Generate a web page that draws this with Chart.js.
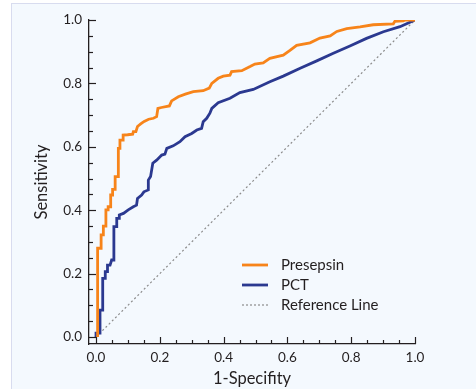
<!DOCTYPE html>
<html>
<head>
<meta charset="utf-8">
<script src="https://cdn.jsdelivr.net/npm/chart.js@4.4.1/dist/chart.umd.min.js"></script>
<style>
  html, body { margin: 0; padding: 0; background: #ffffff; }
  #wrap { position: relative; width: 476px; height: 389px; overflow: hidden; }
  #panel { position: absolute; left: 11px; top: 3px; width: 470px; height: 390px;
           background: #f4f9fe; border-left: 1px solid #d8dcef; border-top: 1px solid #d8dcef; }
  canvas { position: absolute; left: 0; top: 0; }
</style>
</head>
<body>
<div id="wrap">
  <div id="panel"></div>
  <canvas id="c" width="476" height="389"></canvas>
</div>
<script>
// ---- Data ----
const seriesNames = ["Presepsin", "PCT", "Reference Line"];

const presepsinFPR = [0.005,0.005,0.016,0.016,0.023,0.023,0.031,0.031,0.038,0.038,0.046,0.046,0.052,0.052,0.060,0.060,0.070,0.070,0.075,0.075,0.085,0.085,0.099,0.115,0.117,0.125,0.130,0.140,0.151,0.165,0.180,0.190,0.194,0.205,0.230,0.237,0.258,0.280,0.305,0.336,0.355,0.363,0.383,0.399,0.420,0.425,0.457,0.483,0.498,0.524,0.545,0.587,0.608,0.629,0.671,0.702,0.734,0.755,0.786,0.828,0.869,0.932,0.937,0.963,0.969,1.0];
const presepsinTPR = [0.000,0.280,0.280,0.322,0.322,0.350,0.350,0.401,0.401,0.411,0.411,0.448,0.448,0.466,0.466,0.506,0.506,0.595,0.595,0.621,0.621,0.637,0.638,0.640,0.648,0.648,0.664,0.672,0.680,0.687,0.690,0.695,0.721,0.724,0.729,0.745,0.758,0.766,0.774,0.777,0.785,0.800,0.816,0.823,0.826,0.837,0.840,0.853,0.861,0.865,0.879,0.889,0.904,0.920,0.928,0.943,0.950,0.964,0.973,0.978,0.985,0.988,0.996,0.997,1.0,1.0];

const pctFPR = [0,0,0.0125,0.0125,0.021,0.021,0.029,0.029,0.036,0.036,0.044,0.049,0.056,0.056,0.065,0.065,0.073,0.073,0.086,0.101,0.117,0.127,0.130,0.143,0.150,0.164,0.164,0.171,0.178,0.190,0.206,0.216,0.222,0.242,0.263,0.279,0.300,0.316,0.331,0.336,0.347,0.357,0.363,0.383,0.420,0.451,0.493,0.545,0.587,0.640,0.692,0.744,0.796,0.848,0.901,0.953,1.0];
const pctTPR = [0,0.012,0.012,0.085,0.085,0.185,0.185,0.206,0.206,0.227,0.227,0.243,0.243,0.348,0.348,0.374,0.374,0.385,0.390,0.401,0.411,0.416,0.437,0.448,0.458,0.464,0.495,0.506,0.548,0.558,0.574,0.577,0.595,0.603,0.616,0.632,0.642,0.653,0.658,0.679,0.690,0.706,0.721,0.739,0.753,0.771,0.781,0.805,0.823,0.848,0.871,0.895,0.918,0.942,0.963,0.979,1.0];

const referenceFPR = [0, 1];
const referenceTPR = [0, 1];

const tickValues = [0, 0.2, 0.4, 0.6, 0.8, 1.0];
const minorTickValues = [0,0.05,0.1,0.15,0.2,0.25,0.3,0.35,0.4,0.45,0.5,0.55,0.6,0.65,0.7,0.75,0.8,0.85,0.9,0.95,1.0];
const xTitle = "1-Specifity";
const yTitle = "Sensitivity";

// ---- Styles ----
const colors = ["#f7841a", "#2b3990", "#8c8c8c"];
const FONT = "Lato, 'Open Sans', sans-serif";
const TEXT = "#231f20";

const toPts = (xs, ys) => xs.map((x, i) => ({x: x, y: ys[i]}));

// inward tick marks drawn through the scales
const innerTicks = {
  id: 'innerTicks',
  afterDatasetsDraw(chart) {
    const {ctx, chartArea, scales} = chart;
    ctx.save();
    ctx.strokeStyle = TEXT;
    ctx.lineWidth = 1.2;
    const isMajor = v => tickValues.some(t => Math.abs(t - v) < 1e-6);
    minorTickValues.forEach(v => {
      const len = isMajor(v) ? 7 : 4;
      const px = Math.round(scales.x.getPixelForValue(v)) + 0.5;
      ctx.beginPath();
      ctx.moveTo(px, chartArea.bottom);
      ctx.lineTo(px, chartArea.bottom - len);
      ctx.stroke();
      const py = Math.round(scales.y.getPixelForValue(v)) + 0.5;
      ctx.beginPath();
      ctx.moveTo(chartArea.left, py);
      ctx.lineTo(chartArea.left + len, py);
      ctx.stroke();
    });
    ctx.restore();
  }
};

// legend inside plot area
const innerLegend = {
  id: 'innerLegend',
  afterDraw(chart) {
    const {ctx} = chart;
    ctx.save();
    const x0 = 242, x1 = 268, tx = 281;
    const ys = [265, 285, 305];
    chart.data.datasets.forEach((ds, i) => {
      ctx.beginPath();
      ctx.strokeStyle = ds.borderColor;
      ctx.lineWidth = i === 2 ? 1.2 : 2.8;
      ctx.setLineDash(i === 2 ? [2, 2] : []);
      ctx.moveTo(x0, ys[i]);
      ctx.lineTo(x1, ys[i]);
      ctx.stroke();
      ctx.setLineDash([]);
      ctx.fillStyle = TEXT;
      ctx.font = "15px " + FONT;
      ctx.textBaseline = 'middle';
      ctx.textAlign = 'left';
      ctx.fillText(ds.label, tx, ys[i]);
    });
    ctx.restore();
  }
};

const axisCommon = {
  type: 'linear',
  min: -0.022,
  max: 1.0,
  grid: { display: false, drawTicks: false },
  border: { display: true, color: TEXT, width: 1.3 },
  afterBuildTicks: (scale) => { scale.ticks = tickValues.map(v => ({value: v})); },
};

new Chart(document.getElementById('c'), {
  type: 'line',
  data: {
    datasets: [
      { label: seriesNames[0], data: toPts(presepsinFPR, presepsinTPR), borderColor: colors[0], borderWidth: 2.8, pointRadius: 0, tension: 0, fill: false },
      { label: seriesNames[1], data: toPts(pctFPR, pctTPR), borderColor: colors[1], borderWidth: 2.8, pointRadius: 0, tension: 0, fill: false },
      { label: seriesNames[2], data: toPts(referenceFPR, referenceTPR), borderColor: colors[2], borderWidth: 1.2, borderDash: [2, 2.5], pointRadius: 0, tension: 0, fill: false }
    ]
  },
  options: {
    responsive: false,
    animation: false,
    devicePixelRatio: 1,
    layout: { padding: { left: 0, top: 20, right: 61, bottom: 0 } },
    plugins: { legend: { display: false }, tooltip: { enabled: false } },
    scales: {
      x: Object.assign({}, axisCommon, {
        position: 'bottom',
        ticks: { color: TEXT, padding: 6, maxRotation: 0, font: { family: FONT, size: 13.5 }, callback: v => v.toFixed(1) },
        title: { display: true, text: xTitle, color: TEXT, font: { family: FONT, size: 16.5 }, padding: { top: 0, bottom: 0 } },
        afterFit: (s) => { s.height = 45; }
      }),
      y: Object.assign({}, axisCommon, {
        position: 'left',
        ticks: { color: TEXT, padding: 7, font: { family: FONT, size: 13.5 }, callback: v => v.toFixed(1) },
        title: { display: true, text: yTitle, color: TEXT, font: { family: FONT, size: 16.5 }, padding: { top: 32, bottom: 0 } },
        afterFit: (s) => { s.width = 89; }
      })
    }
  },
  plugins: [innerTicks, innerLegend]
});
</script>
</body>
</html>
